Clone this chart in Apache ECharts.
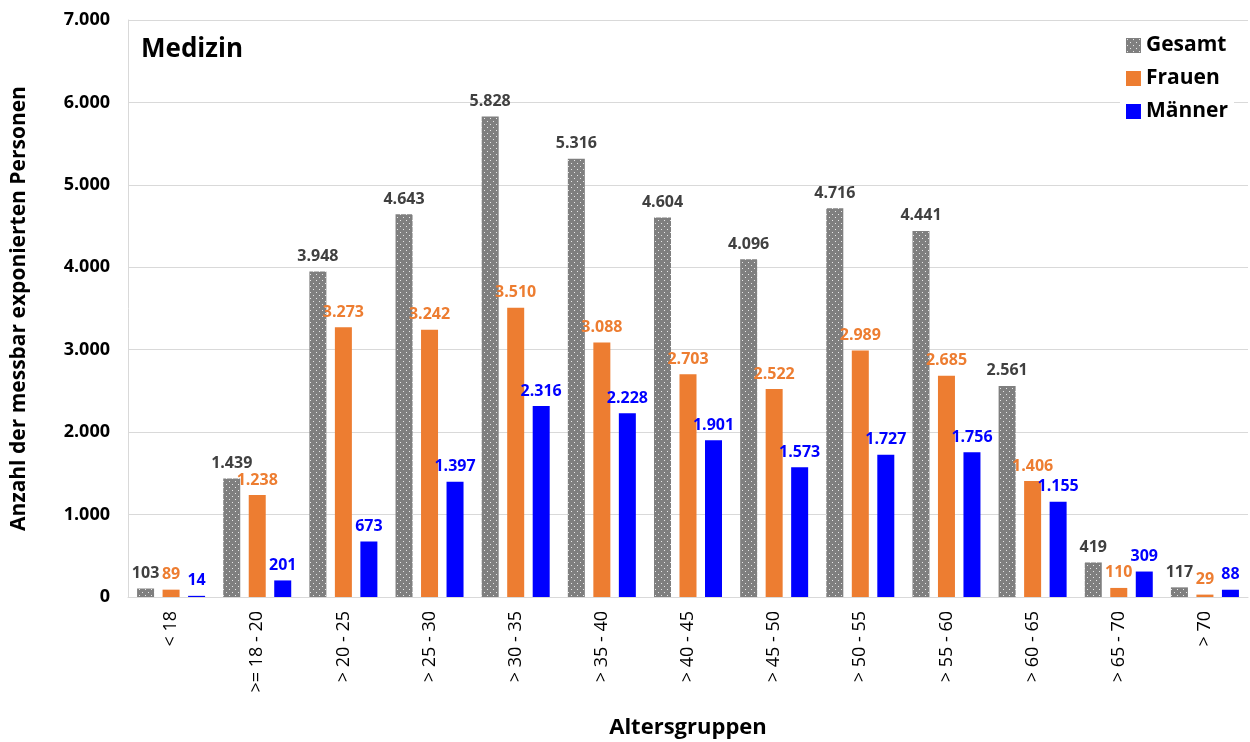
<!DOCTYPE html>
<html><head><meta charset="utf-8">
<script src="https://cdn.jsdelivr.net/npm/echarts@6/dist/echarts.min.js"></script>
<style>html,body{margin:0;padding:0;background:#fff}#c{width:1250px;height:742px}</style>
</head><body><div id="c"></div>
<script>
const categories = ['< 18','>= 18 - 20','> 20 - 25','> 25 - 30','> 30 - 35','> 35 - 40','> 40 - 45','> 45 - 50','> 50 - 55','> 55 - 60','> 60 - 65','> 65 - 70','> 70'];
const gesamt = [103,1439,3948,4643,5828,5316,4604,4096,4716,4441,2561,419,117];
const frauen = [89,1238,3273,3242,3510,3088,2703,2522,2989,2685,1406,110,29];
const maenner = [14,201,673,1397,2316,2228,1901,1573,1727,1756,1155,309,88];
const yTicks = [0,1000,2000,3000,4000,5000,6000,7000];

function fmt(v){ return String(Math.round(v)).replace(/\B(?=(\d{3})+(?!\d))/g,'.'); }

const pc = document.createElement('canvas');
pc.width = 6; pc.height = 6;
const g = pc.getContext('2d');
g.fillStyle = '#7f7f7f'; g.fillRect(0,0,6,6);
g.fillStyle = '#e8e8e8';
g.fillRect(1,1,1,1); g.fillRect(4,4,1,1);

const FONT = 'Open Sans';
const chart = echarts.init(document.getElementById('c'));
function lbl(color){ return {show:true,position:'top',distance:7,color:color,fontWeight:'bold',fontSize:16,fontFamily:FONT,formatter:p=>fmt(p.value)}; }
chart.setOption({
  animation:false,
  textStyle:{fontFamily:FONT},
  title:{text:'Medizin',left:136,top:32,textStyle:{fontSize:26,fontWeight:'bold',color:'#000',fontFamily:FONT}},
  legend:{
    orient:'vertical',right:16,top:33,itemWidth:15,itemHeight:15,itemGap:12,icon:'rect',
    backgroundColor:'#fff',padding:[2,6,2,6],
    textStyle:{fontSize:21,fontWeight:'bold',color:'#000',fontFamily:FONT},
    data:['Gesamt','Frauen','Männer']
  },
  grid:{left:128,right:2,top:20,bottom:145,containLabel:false,outerBoundsMode:'none'},
  xAxis:{
    type:'category',data:categories,
    name:'Altersgruppen',nameLocation:'middle',nameGap:120,
    nameTextStyle:{fontSize:22,fontWeight:'bold',color:'#000',fontFamily:FONT},
    axisLine:{lineStyle:{color:'#d9d9d9',width:1}},
    axisTick:{show:false},
    axisLabel:{rotate:90,color:'#000',fontSize:18,fontFamily:FONT,margin:14,interval:0}
  },
  yAxis:{
    type:'value',min:0,max:7000,interval:1000,
    name:'Anzahl der messbar exponierten Personen',nameLocation:'middle',nameGap:98,
    nameTextStyle:{fontSize:21,fontWeight:'bold',color:'#000',fontFamily:FONT},
    axisLine:{show:true,lineStyle:{color:'#d9d9d9'}},
    splitLine:{lineStyle:{color:'#d9d9d9',width:1}},
    axisLabel:{color:'#000',fontSize:18,fontWeight:'bold',fontFamily:FONT,margin:18,formatter:v=>fmt(v)}
  },
  series:[
    {name:'Gesamt',type:'bar',data:gesamt,barWidth:17,barGap:'50%',itemStyle:{color:{image:pc,repeat:'repeat'}},label:lbl('#404040')},
    {name:'Frauen',type:'bar',data:frauen,barWidth:17,barGap:'50%',itemStyle:{color:'#ED7D31'},label:lbl('#ED7D31')},
    {name:'Männer',type:'bar',data:maenner,barWidth:17,barGap:'50%',itemStyle:{color:'#0000FF'},label:lbl('#0000FF')}
  ]
});
</script></body></html>
